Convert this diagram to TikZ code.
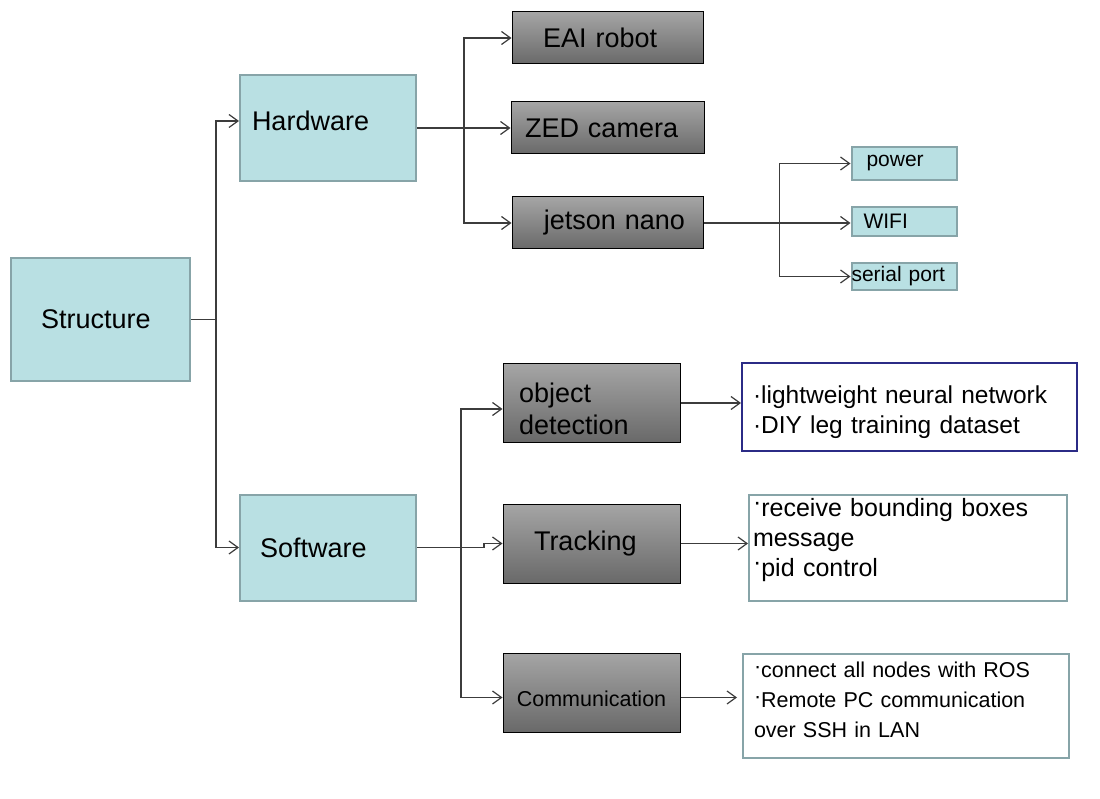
\documentclass[tikz,border=0pt]{standalone}
\usepackage{fontspec}
\setmainfont{Liberation Sans}
\usetikzlibrary{positioning}
\usetikzlibrary{shapes.geometric, arrows.meta}
\definecolor{boxfill}{HTML}{B9E0E3}
\definecolor{boxline}{HTML}{87A4A8}
\definecolor{parttop}{HTML}{A5A5A5}
\definecolor{partbot}{HTML}{696969}
\definecolor{navy}{HTML}{2B2B86}
\definecolor{wirecol}{HTML}{3C3C3C}
\newcommand{\hdot}{\raisebox{.22em}{·}}
\tikzstyle{topic} = [rectangle, minimum width=176pt, minimum height=106pt, draw=boxline, line width=2pt, fill=boxfill, align=left, font=\fontsize{27}{32}\selectfont]
\tikzstyle{part} = [rectangle, minimum width=191pt, minimum height=52pt, draw=black, line width=1pt, top color=parttop, bottom color=partbot, align=left, font=\fontsize{27}{32}\selectfont]
\tikzstyle{port} = [rectangle, minimum width=105pt, draw=boxline, line width=2pt, fill=boxfill, align=left, font=\fontsize{21}{25}\selectfont]
\tikzstyle{note} = [rectangle, draw=boxline, line width=2pt, fill=white, align=left, font=\fontsize{25}{30}\selectfont]
\tikzstyle{link} = [draw=wirecol, line width=1.2pt]
\tikzstyle{arrow} = [link, -{Straight Barb[length=9pt,width=13pt]}]

\begin{document}
\begin{tikzpicture}[x=1pt, y=-1pt, node distance=95pt]
        \useasboundingbox (0,0) rectangle (1100,799);
        \node (str) [topic, minimum width=179pt, minimum height=123pt, text width=119pt, inner xsep=30pt] at (100.5,319.5) {Structure};
        \node (hw) [topic, text width=152pt, inner xsep=12pt, text depth=14pt] at (328,128) {Hardware};
        \node (sw) [topic, node distance=419.5pt, below of=hw, text width=136pt, inner xsep=20pt] {Software};
        \node (eai) [part, text width=129pt, inner xsep=31pt] at (607.5,38) {EAI robot};
        \node (zed) [part, below of=eai, yshift=5pt, minimum width=193pt, text width=165pt, inner xsep=14pt] {ZED camera};
        \node (jet) [part, below of=zed, text width=155pt, inner xsep=18pt, align=right] {jetson nano};
        \node (wifi) [port, node distance=296.5pt, right of=jet, yshift=1.5pt, minimum height=29pt, text width=81pt, inner xsep=12pt] {WIFI};
        \node (pow) [port, node distance=58pt, above of=wifi, minimum height=33pt, text width=75pt, inner xsep=15pt] {power};
        \node (ser) [port, node distance=55pt, below of=wifi, minimum height=27pt, text width=105pt, inner xsep=0pt] {serial port};
        \node (obj) [part, minimum width=177pt, minimum height=78pt, text width=145pt, inner xsep=16pt, text depth=21pt] at (591.5,403) {object\\detection};
        \node (trk) [part, node distance=140.5pt, below of=obj, minimum width=177pt, minimum height=79pt, text width=115pt, inner xsep=31pt] {Tracking};
        \node (com) [part, node distance=149pt, below of=trk, minimum width=177pt, minimum height=79pt, align=center, text height=28pt, font=\fontsize{21.5}{26}\selectfont] {Communication};
        \node (objinfo) [note, node distance=318pt, right of=obj, yshift=-4pt, draw=navy, minimum height=88pt, text width=313pt, inner xsep=11pt, text depth=25pt, font=\fontsize{24.5}{30}\selectfont] {·lightweight neural network\\·DIY leg training dataset};
        \node (trkinfo) [note, node distance=316.5pt, right of=trk, yshift=-4.5pt, minimum height=106pt, text width=310pt, inner xsep=4pt, text depth=82pt] {\hdot receive bounding boxes\\message\\\hdot pid control};
        \node (cominfo) [note, node distance=314.5pt, right of=com, yshift=-13.5pt, minimum height=104pt, text width=304pt, inner xsep=11pt, text depth=72pt, font=\fontsize{21.5}{30}\selectfont] {\hdot connect all nodes with ROS\\\hdot Remote PC communication\\over SSH in LAN};
        \coordinate (hsplit) at ([xshift=25pt]str.east);
        \coordinate (hwsplit) at ([xshift=47pt]hw.east);
        \coordinate (jsplit) at ([xshift=76pt]jet.east);
        \coordinate (swsplit) at ([xshift=44pt]sw.east);
        \draw [link] (str.east) -- (hsplit);
        \draw [arrow] (hsplit) |- ([yshift=7pt]hw.west);
        \draw [arrow] (hsplit) |- (sw.west);
        \draw [link] (hw.east) -- (hwsplit);
        \draw [arrow] (hwsplit) |- (eai.west);
        \draw [arrow] (hwsplit) -- (zed.west);
        \draw [arrow] (hwsplit) |- (jet.west);
        \draw [arrow] (jet.east) -- (jet.east -| wifi.west);
        \draw [arrow] (jsplit) |- (pow.west);
        \draw [arrow] (jsplit) |- (ser.west);
        \draw [link] (sw.east) -- (swsplit);
        \draw [arrow] (swsplit) |- ([yshift=-6pt]obj.west);
        \draw [arrow] (swsplit) -- ++(23pt,0) |- (trk.west);
        \draw [arrow] (swsplit) |- ([yshift=-5pt]com.west);
        \draw [arrow] (obj.east) -- (obj.east -| objinfo.west);
        \draw [arrow] (trk.east) -- (trk.east -| trkinfo.west);
        \draw [arrow, shorten >=5pt] ([yshift=-5pt]com.east) -- ([yshift=-5pt]com.east -| cominfo.west);

    \end{tikzpicture}
\end{document}
